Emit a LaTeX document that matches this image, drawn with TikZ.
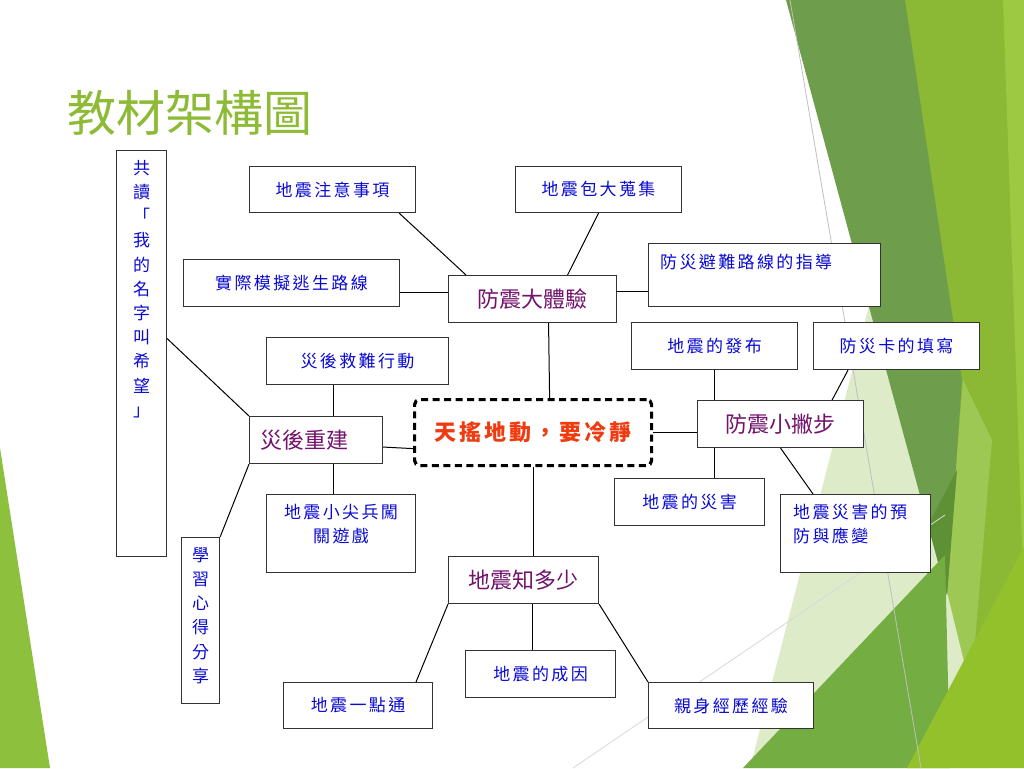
\documentclass[tikz,border=0pt]{standalone}
\usepackage{fontspec}
\setmainfont{Liberation Sans}
\newfontfamily\cjk{Noto Sans CJK TC}
\newfontfamily\cjkspaced[LetterSpace=14]{Noto Sans CJK TC}
\newfontfamily\cjkhub[LetterSpace=14]{Noto Sans CJK TC}
\usepackage{xcolor}

\definecolor{titlegreen}{RGB}{141,187,53}
\definecolor{boxblue}{RGB}{10,10,210}
\definecolor{topicpurple}{RGB}{114,18,108}
\definecolor{hubred}{RGB}{240,58,16}
\definecolor{facetdark}{RGB}{110,157,75}
\definecolor{facetdarker}{RGB}{94,145,54}
\definecolor{facetbright}{RGB}{139,185,53}
\definecolor{facetlight}{RGB}{157,201,66}
\definecolor{facetsoft}{RGB}{158,200,84}
\definecolor{facetpale}{RGB}{221,235,200}
\definecolor{facetmid}{RGB}{116,173,66}
\definecolor{facetyellow}{RGB}{147,193,43}
\definecolor{facetleft}{RGB}{141,192,60}

\tikzset{
  box/.style={draw=black!80, line width=1.1pt, fill=white, anchor=north west,
    inner sep=0pt, text=boxblue, font={\cjkspaced\fontsize{17}{24}\selectfont}},
  topic/.style={box, text=topicpurple, font={\cjk\fontsize{22}{26}\selectfont}},
  note/.style={inner sep=0pt, text=boxblue, font={\cjkspaced\fontsize{17}{24}\selectfont}},
  vnote/.style={inner sep=0pt, anchor=north, align=center, text=boxblue,
    font={\cjk\fontsize{17}{24.2}\selectfont}},
  link/.style={draw=black, line width=1pt},
}

\begin{document}
\begin{tikzpicture}[x=1pt,y=-1pt]
% fond
\fill[white] (0,0) rectangle (1024,768);
\useasboundingbox (0,0) rectangle (1024,768);
% formes vertes a droite
\fill[facetbright] (905,0) -- (1024,0) -- (1024,768) -- (905,768) -- cycle;
\fill[facetlight] (1003,0) -- (1024,0) -- (1024,600) -- cycle;
\fill[facetsoft] (963,380) -- (992,440) -- (965,760) -- (937,700) -- cycle;
\fill[facetpale] (873,290) -- (990,768) -- (750,768) -- cycle;
\fill[facetdark] (786,0) -- (905,0) -- (962,380) -- (947,595) -- cycle;
\fill[facetdarker] (957,470) -- (947,595) -- (928,525) -- cycle;
\fill[facetmid] (743,768) -- (945,555) -- (950,768) -- cycle;
\fill[facetyellow] (907,768) -- (1024,547) -- (1024,768) -- cycle;
\draw[black!25, line width=0.8pt] (790,0) -- (921,768);
\draw[black!15, line width=0.8pt] (573,768) -- (945,515);
% triangle a gauche
\fill[facetleft] (0,448) -- (50,768) -- (0,768) -- cycle;

% titre
\node[text=titlegreen, font={\cjk\fontsize{49}{55}\selectfont}, inner sep=0pt] (title) at (190,113) {教材架構圖};

% colonne de gauche
\node[box, minimum width=50, minimum height=406] (gongdu) at (116,150) {};
\node[vnote] (gongdu-t) at ([shift={(0,10)}]gongdu.north) {共\\讀\\「\\我\\的\\名\\字\\叫\\希\\望\\」};
\node[box, minimum width=38, minimum height=166] (xuexi) at (181,537) {};
\node[vnote] (xuexi-t) at ([shift={(0,10)}]xuexi.north) {學\\習\\心\\得\\分\\享};

% boites
\node[box, minimum width=166, minimum height=46] (zhuyi) at (249,166) {地震注意事項};
\node[box, minimum width=166, minimum height=46] (bao) at (515,166) {地震包大蒐集};
\node[box, minimum width=216, minimum height=47] (moni) at (183,259) {實際模擬逃生路線};
\node[box, minimum width=232, minimum height=63] (zhidao) at (648,243) {};
\node[note, anchor=north west] (zhidao-t) at ([shift={(12,11)}]zhidao.north west) {防災避難路線的指導};
\node[box, minimum width=166, minimum height=47] (fabu) at (631,322) {地震的發布};
\node[box, minimum width=166, minimum height=47] (ka) at (813,322) {防災卡的填寫};
\node[box, minimum width=182, minimum height=47] (jiunan) at (266,337) {災後救難行動};
\node[box, minimum width=150, minimum height=47] (zaihai) at (614,478) {地震的災害};
\node[box, minimum width=150, minimum height=78] (yufang) at (780,494) {};
\node[note, anchor=north west, align=left] (yufang-t) at ([shift={(13,10)}]yufang.north west) {地震災害的預\\防與應變};
\node[box, minimum width=149, minimum height=78] (jianbing) at (266,494) {};
\node[note, anchor=north, align=center] (jianbing-t) at ([shift={(0,10)}]jianbing.north) {地震小尖兵闖\\關遊戲};
\node[box, minimum width=149, minimum height=46] (yidian) at (283,682) {地震一點通};
\node[box, minimum width=150, minimum height=47] (chengyin) at (465,650) {地震的成因};
\node[box, minimum width=165, minimum height=46] (qinshen) at (648,682) {親身經歷經驗};

% themes
\node[topic, minimum width=168, minimum height=47] (tiyan) at (448,275) {防震大體驗};
\node[topic, minimum width=133, minimum height=47, text width=111, inner xsep=11, align=left] (chongjian) at (249,416) {災後重建};
\node[topic, minimum width=166, minimum height=47] (piebu) at (697,400) {防震小撇步};
\node[topic, minimum width=150, minimum height=47] (duoshao) at (448,556) {地震知多少};

% centre
\node[draw=black, fill=white, line width=3.2pt,
  dash pattern=on 7pt off 4.5pt, rounded corners=5pt, anchor=north west,
  minimum width=237, minimum height=66, inner sep=0pt, text=hubred,
  font={\cjkhub\bfseries\fontsize{22}{26}\selectfont}] (hub) at (413,398) {天搖地動，要冷靜};

% liens
\draw[link] ([xshift=-17pt]zhuyi.south east) -- ([xshift=18pt]tiyan.north west);
\draw[link] (bao.south) -- ([xshift=35pt]tiyan.north);
\draw[link] ([yshift=-9.5pt]moni.east) -- ([yshift=6.5pt]tiyan.west);
\draw[link] ([yshift=7.5pt]tiyan.east) -- ([yshift=-16.5pt]zhidao.west);
\draw[link] ([xshift=16pt]tiyan.south) -- ([xshift=16.5pt]hub.north);
\draw[link] (hub.south) -- (hub.south |- duoshao.north);
\draw[link] ([yshift=-7pt]chongjian.east) -- ([yshift=-16pt]hub.west);
\draw[link] (hub.east) -- (hub.east -| piebu.west);
\draw[link] ([xshift=-24pt]jiunan.south) -- ([xshift=17.5pt]chongjian.north);
\draw[link] ([xshift=17.5pt]chongjian.south) -- ([xshift=-7.5pt]jianbing.north);
\draw[link] ([yshift=15pt]gongdu.east) -- (chongjian.north west);
\draw[link] (xuexi.north east) -- (chongjian.south west);
\draw[link] (fabu.south) -- (fabu.south |- piebu.north);
\draw[link] ([xshift=35pt]ka.south west) -- ([xshift=-32pt]piebu.north east);
\draw[link] ([xshift=25pt]zaihai.north) -- ([xshift=25pt]zaihai.north |- piebu.south);
\draw[link] (piebu.south) -- ([xshift=33pt]yufang.north west);
\draw[link] (duoshao.south west) -- ([xshift=133pt]yidian.north west);
\draw[link] ([xshift=-8pt]chengyin.north) -- ([xshift=-8pt]chengyin.north |- duoshao.south);
\draw[link] (duoshao.south east) -- (qinshen.north west);
\end{tikzpicture}
\end{document}
